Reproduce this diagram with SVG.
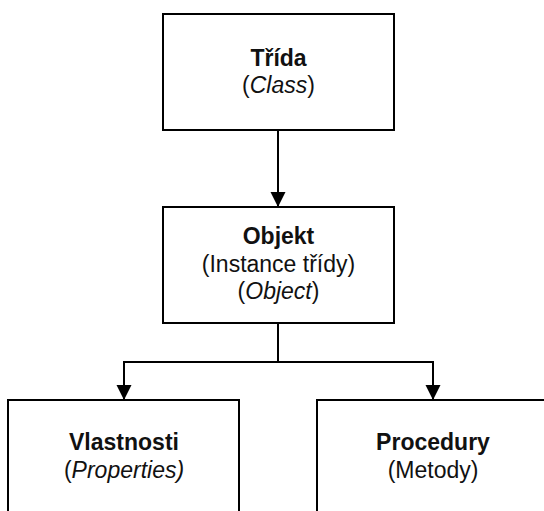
<svg xmlns="http://www.w3.org/2000/svg" width="544" height="511" viewBox="0 0 544 511">
<style>
.box{fill:#fff;stroke:#000;stroke-width:2}
.t{font-family:"Liberation Sans",Arial,sans-serif;font-size:23px;fill:#111;text-anchor:middle}
.b{font-weight:bold}
.c{fill:none;stroke:#000;stroke-width:2}
</style>
<defs>
<marker id="ah" markerWidth="15" markerHeight="17" refX="15" refY="7.5" orient="auto" markerUnits="userSpaceOnUse">
<path d="M0,0 L15,7.5 L0,15 Z" fill="#000"/>
</marker>
</defs>
<rect width="544" height="511" fill="#fff"/>
<g id="connectors">
<path class="c" d="M278,130 V207" marker-end="url(#ah)"/>
<path class="c" d="M278,323 V362 H124 V400" marker-end="url(#ah)"/>
<path class="c" d="M278,362 H433 V400" marker-end="url(#ah)"/>
</g>
<g id="trida">
<rect class="box" x="163" y="14" width="231" height="116"/>
<text class="t b" x="278.5" y="66">Třída</text>
<text class="t" x="278.5" y="93">(<tspan font-style="italic">Class</tspan>)</text>
</g>
<g id="objekt">
<rect class="box" x="163" y="207" width="231" height="116"/>
<text class="t b" x="278.5" y="244">Objekt</text>
<text class="t" x="278.5" y="271.5">(Instance třídy)</text>
<text class="t" x="278.5" y="298.5">(<tspan font-style="italic">Object</tspan>)</text>
</g>
<g id="vlastnosti">
<rect class="box" x="8" y="400" width="231" height="116"/>
<text class="t b" x="124" y="450">Vlastnosti</text>
<text class="t" x="124" y="478">(<tspan font-style="italic">Properties)</tspan></text>
</g>
<g id="procedury">
<rect class="box" x="317" y="400" width="231" height="116"/>
<text class="t b" x="433" y="450">Procedury</text>
<text class="t" x="433" y="478">(Metody)</text>
</g>
</svg>
